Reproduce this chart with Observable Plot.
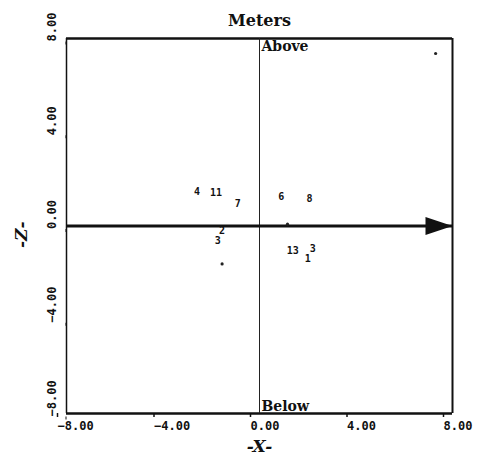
<!DOCTYPE html>
<html>
<head>
<meta charset="utf-8">
<script src="https://cdn.jsdelivr.net/npm/d3@7"></script>
<script src="https://cdn.jsdelivr.net/npm/@observablehq/plot@0.6"></script>
<style>
  html, body { margin: 0; padding: 0; background: #fff; }
  svg { display: block; }
</style>
</head>
<body>
<div id="chart"></div>
<script>
// Labelled points (X, Z in meters)
const pointLabels = ["4", "11", "7", "6", "8", "2", "3", "13", "3", "1"];
const pointX = [-2.59, -1.80, -0.90, 0.90, 2.07, -1.55, -1.73, 1.38, 2.21, 2.00];
const pointZ = [1.46, 1.40, 0.94, 1.26, 1.15, -0.20, -0.63, -1.05, -0.98, -1.40];

// Unlabelled dots
const dotX = [-1.55, 1.16, 7.30];
const dotZ = [-1.62, 0.08, 7.36];

const xTicks = [-8, -4, 0, 4, 8];
const zTicks = [-8, -4, 0, 4, 8];
const xDomain = [-8, 8];
const zDomain = [-8, 8];

const labels = pointLabels.map((t, i) => ({t, x: pointX[i], z: pointZ[i]}));
const dots = dotX.map((x, i) => ({x, z: dotZ[i]}));

const fmt = d3.format(".2f");
const monoFont = "'DejaVu Sans Mono', monospace";
const serifFont = "'DejaVu Serif', serif";

// filled arrowhead symbol whose tip sits on the anchor point
const arrowHead = {
  draw(ctx) {
    ctx.moveTo(0, 0);
    ctx.lineTo(-27, -9);
    ctx.lineTo(-27, 9);
    ctx.closePath();
  }
};

const chart = Plot.plot({
  width: 482,
  height: 458,
  marginLeft: 66,
  marginRight: 30,
  marginTop: 38,
  marginBottom: 45,
  x: {domain: xDomain},
  y: {domain: zDomain},
  style: {background: "#fff", color: "#111"},
  marks: [
    // frame
    Plot.ruleX([xDomain[0]], {strokeWidth: 1.5, stroke: "#111"}),
    Plot.ruleX([xDomain[1]], {strokeWidth: 2, stroke: "#111"}),
    Plot.ruleY([zDomain[1]], {strokeWidth: 2.5, stroke: "#111"}),
    Plot.ruleY([zDomain[0]], {strokeWidth: 2.5, stroke: "#111"}),
    // zero vertical line
    Plot.ruleX([0], {strokeWidth: 1, stroke: "#222"}),
    // X axis arrow along Z = 0
    Plot.ruleY([0], {x1: xDomain[0], x2: xDomain[1], strokeWidth: 3, stroke: "#111"}),
    Plot.dot([{x: xDomain[1], z: 0}], {x: "x", y: "z", symbol: arrowHead, fill: "#111", stroke: "none"}),
    // axes
    Plot.axisX(xTicks, {
      tickFormat: fmt, tickSize: 4, tickPadding: 4, textAnchor: "start", dx: -9,
      fontSize: 12, fontWeight: "bold", fontFamily: monoFont, letterSpacing: 1.5,
      label: null, stroke: "#111", strokeWidth: 1.5
    }),
    Plot.axisY(zTicks, {
      tickFormat: fmt, tickSize: 3, tickPadding: 8, rotate: -90,
      textAnchor: "start", lineAnchor: "bottom", dy: 3,
      fontSize: 12, fontWeight: "bold", fontFamily: monoFont, letterSpacing: 1.5,
      label: null, stroke: "#111"
    }),
    // axis labels
    Plot.text(["-X-"], {frameAnchor: "bottom", dy: 38, fontSize: 17, fontWeight: "bold", fontStyle: "italic", fontFamily: serifFont}),
    Plot.text(["-Z-"], {frameAnchor: "left", dx: -45, dy: 22, rotate: -90, fontSize: 17, fontWeight: "bold", fontStyle: "italic", fontFamily: serifFont}),
    // title and annotations
    Plot.text(["Meters"], {frameAnchor: "top", dy: -24, fontSize: 16, fontWeight: "bold", fontFamily: serifFont, letterSpacing: 2.5}),
    Plot.text(["Above"], {x: 0, frameAnchor: "top", textAnchor: "start", dx: 2, dy: 3, fontSize: 14, fontWeight: "bold", fontFamily: serifFont, letterSpacing: 2}),
    Plot.text(["Below"], {x: 0, frameAnchor: "bottom", textAnchor: "start", dx: 2, dy: -3, fontSize: 14, fontWeight: "bold", fontFamily: serifFont, letterSpacing: 2}),
    // data
    Plot.text(labels, {x: "x", y: "z", text: "t", fontSize: 10, fontWeight: "bold", fontFamily: monoFont, fill: "#111"}),
    Plot.dot(dots, {x: "x", y: "z", r: 1.6, fill: "#222", stroke: "none"})
  ]
});

document.getElementById("chart").appendChild(chart);
</script>
</body>
</html>
